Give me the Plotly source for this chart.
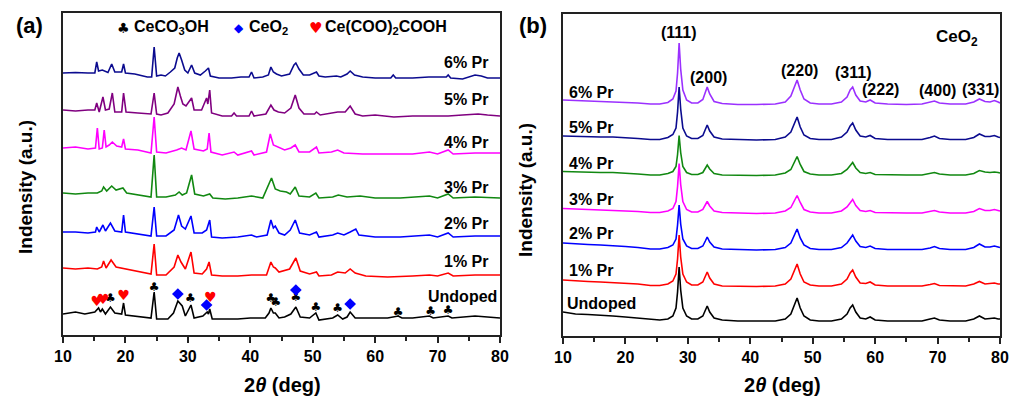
import plotly.graph_objects as go

# ---------------- Panel (a): as-prepared samples, (2theta, height above own baseline) ----------------
A_6 = [(10,7),(12,7.5),(14,7),(15.1,7),(15.4,18),(15.7,9),(16.3,10),(16.6,9),(17.2,7.5),(17.8,16),
       (18.3,8),(19.4,8),(19.7,16),(20.0,7),(21.5,6),(23.5,3),(24.2,3),(24.6,33),(25.0,4),(25.7,5),
       (26.4,4),(27.2,8),(27.9,12),(28.3,22),(28.6,27),(29.0,20),(29.5,10),(30.0,7),(30.6,15),(31.1,7),
       (32.0,5),(32.8,9),(33.0,10),(33.3,12),(33.6,4),(35,2),(37,2),(38.5,3),(39.8,3),(40.2,8),
       (40.6,2),(42,3),(42.9,5),(43.3,13),(43.7,8),(44.2,6),(45,4),(46.3,6),(47.0,15),(47.3,17),
       (47.8,11),(48.5,5),(49.5,5),(50.6,8),(51.0,4),(52,3),(53.8,4),(54.5,3),(55.5,6),(56.0,9),
       (56.7,5),(58,3),(60,2),(62.5,2),(62.9,5),(63.3,2),(66,2),(68.6,3),(71.4,3),(71.7,5),
       (72.1,2),(74,1),(76.0,5),(77,4),(78,2),(80,2)]
A_5 = [(10,8),(12,7),(14,8),(15.1,8),(15.4,15),(15.8,6),(16.4,21),(16.8,8),(17.4,9),(17.9,25),
       (18.3,6),(19.4,6),(19.7,25),(20.1,6),(22,5),(24.1,4),(24.6,25),(25.0,4),(25.7,3),(26.8,5),
       (27.8,14),(28.4,31),(28.8,22),(29.2,14),(29.7,12),(30.6,20),(31.0,8),(32.2,8),(33.0,20),(33.2,14),
       (33.5,28),(33.8,5),(35.5,2),(37.0,2),(37.4,5),(37.8,2),(39.8,2),(40.2,7),(40.6,2),(42.5,4),
       (43.3,13),(43.8,8),(44.5,6),(45.5,5),(46.5,10),(47.2,23),(47.8,10),(48.6,4),(50.3,4),(50.6,6),
       (51.2,3),(53.2,5),(54.0,6),(55.2,6),(56.0,12),(56.8,4),(58,2),(60,3),(63,1),(66,2),
       (68.5,2),(71.7,2),(74,3),(76.5,4),(78,3),(80,2)]
A_4 = [(10,7),(12,8),(14,6),(15.2,7),(15.5,27),(15.8,6),(16.3,7),(16.6,25),(16.9,8),(17.4,10),
       (17.9,13),(18.6,9),(19.4,8),(19.7,16),(20.0,6),(22,5),(24.1,2),(24.6,38),(25.0,3),(26.5,2),
       (28.2,5),(29.0,7),(29.7,5),(30.5,24),(31.0,6),(32.5,4),(33.1,6),(33.4,22),(33.7,3),(35.5,0),
       (37.4,3),(38,0),(40.2,4),(40.6,0),(42.6,3),(43.2,21),(43.7,10),(44.5,8),(45.5,5),(46.5,7),
       (47.2,10),(47.8,3),(49.5,3),(50.6,8),(51.0,2),(53,3),(54.0,5),(55,2),(58,1),(62,1),
       (66,1),(68.7,3),(70,1),(71.7,5),(72.5,1),(76,2),(80,2)]
A_3 = [(10,6),(12,5),(14,6),(15.5,6),(16.2,8),(16.5,12),(17.0,8),(17.8,13),(18.5,9),(19.6,11),
       (20.2,6),(22,4),(24.1,2),(24.6,44),(25.0,2),(26.5,2),(28.0,4),(28.6,7),(29.1,4),(29.8,6),
       (30.6,24),(31.1,5),(32.5,3),(33.5,5),(34,1),(36,0),(38,1),(40.2,3),(42,1),(43.4,21),
       (44.0,10),(44.8,8),(45.8,7),(46.4,5),(47.2,12),(47.8,3),(49.5,2),(50.5,6),(51.0,1),(53.2,2),
       (54.1,4),(55.5,2),(57.6,3),(60,1),(64,1),(68.7,3),(70,1),(71.7,5),(72.5,1),(76,2),(80,1)]
A_2 = [(10,6),(12,6),(14,5),(15.2,6),(15.4,11),(15.8,6),(16.4,13),(16.8,7),(17.6,15),(18.3,7),
       (19.4,6),(19.7,23),(20.0,6),(22,4),(24.1,2),(24.6,31),(25.0,2),(26.5,2),(27.8,8),(28.5,23),
       (29.0,12),(29.6,9),(30.5,22),(31.0,5),(32.3,5),(33.0,8),(33.5,18),(33.8,1),(35.5,0),(38,1),
       (40.2,3),(41,1),(42.7,3),(43.3,18),(43.7,10),(44.0,12),(44.6,5),(45.5,3),(46.4,8),(47.2,18),
       (47.9,5),(49.5,3),(50.6,6),(51.0,1),(53.2,3),(54.0,5),(55.0,3),(56.0,6),(56.9,9),(57.4,3),
       (60,1),(64,1),(68.7,3),(70,1),(71.7,5),(72.5,1),(76,2),(80,2)]
A_1 = [(10,9),(12,8),(14,9),(15.5,8),(16.2,10),(16.5,16),(16.9,9),(17.7,17),(18.5,10),(20,8),
       (22,6),(24.1,3),(24.6,33),(25.0,2),(26.5,2),(27.8,10),(28.4,22),(28.9,15),(29.6,8),(30.5,25),
       (31.0,4),(32.3,3),(33.0,8),(33.4,15),(33.8,2),(35.5,1),(38,1),(40.2,2),(42.6,2),(43.3,15),
       (43.7,10),(44.0,9),(44.6,5),(46.3,8),(47.3,19),(48.0,6),(49.5,3),(50.6,5),(51.0,1),(53,2),
       (54.0,5),(55.2,4),(56.0,8),(56.8,4),(58.5,1),(62,0),(66,1),(68.7,2),(70,1),(71.7,4),
       (72.5,1),(76,2),(80,2)]
A_U = [(10,8),(11,9),(12,10),(13.5,8),(15.1,10),(15.7,14),(16.0,10),(16.3,13),(16.8,8),(17.6,15),
       (18.3,9),(19.4,8),(19.7,19),(20.0,7),(21.5,6),(23.5,4),(24.1,4),(24.6,30),(25.0,3),(26.0,3),
       (26.8,3),(27.7,9),(28.4,21),(29.1,16),(29.6,6),(30.5,17),(31.0,4),(32.4,6),(33.1,10),(33.3,8),
       (33.5,13),(33.9,3),(36,3),(38,3),(40,4),(42.4,4),(43.0,9),(43.3,14),(43.7,9),(44.0,9),
       (44.6,4),(45.5,5),(46.5,8),(47.3,15),(48.0,5),(49.5,4),(50.5,9),(51.0,2),(53.2,4),(54.0,7),
       (54.8,3),(55.5,5),(56.0,10),(56.8,4),(58,4),(60,4),(62,4),(63.7,6),(64.3,4),(66,4),
       (68.7,6),(69.3,4),(71.7,6),(72.3,4),(74,5),(76,6),(78,5),(80,4)]

A_NAMES = ["6% Pr", "5% Pr", "4% Pr", "3% Pr", "2% Pr", "1% Pr", "Undoped"]
A_SERIES = [A_6, A_5, A_4, A_3, A_2, A_1, A_U]
A_OFFSETS = [255, 217, 180, 136, 97, 58, 13]
A_COLORS = ["#0b0b8f", "#800080", "#ff00ff", "#118811", "#0000ff", "#ff0000", "#000000"]

# phase markers on the undoped pattern (2theta, height above the undoped baseline)
CLUB_X = [17.6, 24.6, 30.4, 43.3, 44.1, 47.3, 50.5, 54.0, 63.7, 68.9, 71.7]
CLUB_Y = [22.7, 34.0, 23.0, 22.7, 18.7, 23.7, 13.7, 12.7, 9.3, 10.3, 11.3]
DIAM_X = [28.4, 33.0, 47.3, 56.0]
DIAM_Y = [28.0, 17.0, 32.0, 18.0]
HEART_X = [15.4, 16.4, 19.7, 33.6]
HEART_Y = [19.3, 21.3, 25.3, 23.7]

# ---------------- Panel (b): calcined CeO2 ----------------
B_X = [10, 12, 14, 16, 18, 20, 22, 24, 25.5, 26.8, 27.6, 28.1, 28.35, 28.6, 28.85, 29.2, 29.8, 30.6,
       31.6, 32.4, 32.8, 33.1, 33.5, 34.2, 35.5, 38, 41, 44, 45.6, 46.5, 47.0, 47.5, 48.0, 48.6,
       49.6, 51, 53, 54.6, 55.5, 56.0, 56.4, 56.9, 57.6, 58.5, 59.2, 60.0, 62, 65, 67.5, 68.8,
       69.5, 70.3, 72, 74.5, 75.8, 76.7, 77.6, 78.4, 79.1, 79.7, 80]
B_6 = [5,4.5,4,4,3.5,3,2,1,1,2.5, 6,14,32,62,36,15,5,2,2,5.5, 12,18,11,3.5,1.5,0.5,0.5,1,3,9,
       17,25,15,6,2,1,1,3,8,15, 18,10,4,3,5,2,1,0.5,1,3, 4,2,1,1,3,6,3.5,3,4.5,3, 2]
B_5 = [4,3.5,3.5,3,3,2.5,1.5,0.5,0.5,2.5, 5.5,12,28,53,31,12,4,1.5,1.5,4.5, 10,15,9,3,1,0.5,0,0.5,3,8,
       15,23,13,5,1.5,0.5,0.5,3,8,14, 17,10,4,3,4.5,1.5,0.5,0.5,0.5,2.5, 4,1.5,0.5,0.5,2.5,6,3.5,3.5,4.5,3, 2.5]
B_4 = [4,3.5,3.5,3,3,2.5,1.5,0.5,0.5,2, 4,9,21,40,23,9,3,1,1,3, 7,10.5,6.5,2,0.5,0,0,0.5,2.5,6,
       12,19,11,4,1.5,0.5,0.5,2,6,10, 13,7.5,3,2,3,1,0.5,0.5,0.5,2, 3,1.5,0.5,0.5,2,5,3.5,3,3.5,3, 2.5]
B_3 = [5,4.5,4,4,3.5,3,2,1,1,2.5, 5,12,27,50,29,12,4,1.5,1.5,4, 8,12,7.5,2.5,1,0.5,0,0.5,2.5,6,
       12,18,11,4,1.5,0.5,0.5,2.5,6.5,11, 14,8,3,2,3,1,0.5,0.5,0.5,2, 3,1.5,0.5,0.5,2,5,3,3,4,3, 2.5]
B_2 = [7,6,5.5,5,4.5,3.5,2.5,1,1,2.5, 5,11,25,45,26,11,4,1.5,1.5,4, 9,13,8,3,1,0.5,0,0.5,2.5,7,
       14,21,12,5,1.5,0.5,0.5,2.5,7,12, 15,9,3.5,2.5,4,1.5,0.5,0.5,0.5,2, 3.5,1.5,0.5,0.5,2.5,6,3,3,4,3, 2.5]
B_1 = [7,6,5.5,5,4.5,4,3,1.5,1.5,3, 6,13,28,52,30,13,5,2,2,5, 10,15,9,3,1,0.5,0.5,1,3,8,
       15,23,13,5,2,1,1,3,8,14, 17,10,4,3.5,5,2,1,1,1,2.5, 3.5,1.5,1,1,3,5.5,3,3.5,4,3, 3]
B_U = [10,8,7.5,7,6,5,4,2.5,2,3, 6,14,30,55,32,14,6,3,3,6, 11,16,10,4,2,1,1,1,3,8,
       16,24,14,6,2,1,1,3,8,14, 17,10,4,3,5,2,1,1,1,3, 4,2,1,1,3,6,3,3.5,4,3, 3]

B_NAMES = ["6% Pr", "5% Pr", "4% Pr", "3% Pr", "2% Pr", "1% Pr", "Undoped"]
B_SERIES = [B_6, B_5, B_4, B_3, B_2, B_1, B_U]
B_OFFSETS = [231, 196, 160.5, 122.5, 86, 49, 14]
B_COLORS = ["#9b30ff", "#0b0b8f", "#118811", "#ff00ff", "#0000ff", "#ff0000", "#000000"]

HKL = ["(111)", "(200)", "(220)", "(311)", "(222)", "(400)", "(331)"]

# ---------------- figure ----------------
W, H = 1019, 398
def PX(x): return x / W
def PY(y): return 1 - y / H

FONT = "Liberation Sans, Arial, sans-serif"
fig = go.Figure()

for pts, off, col in zip(A_SERIES, A_OFFSETS, A_COLORS):
    fig.add_trace(go.Scatter(x=[p[0] for p in pts], y=[p[1] + off for p in pts], mode="lines",
                             line=dict(color=col, width=1.6), xaxis="x", yaxis="y",
                             showlegend=False, hoverinfo="skip"))
U_OFF = A_OFFSETS[-1]
fig.add_trace(go.Scatter(x=CLUB_X, y=[v + U_OFF for v in CLUB_Y], mode="text", text=["♣"] * len(CLUB_X),
                         textposition="middle center",
                         textfont=dict(size=12, color="black", family="DejaVu Sans"),
                         xaxis="x", yaxis="y", showlegend=False, hoverinfo="skip"))
fig.add_trace(go.Scatter(x=HEART_X, y=[v + U_OFF for v in HEART_Y], mode="text", text=["♥"] * len(HEART_X),
                         textposition="middle center",
                         textfont=dict(size=14, color="#ff0000", family="DejaVu Sans"),
                         xaxis="x", yaxis="y", showlegend=False, hoverinfo="skip"))
fig.add_trace(go.Scatter(x=DIAM_X, y=[v + U_OFF for v in DIAM_Y], mode="markers",
                         marker=dict(symbol="diamond", size=9, color="#0000ff"),
                         xaxis="x", yaxis="y", showlegend=False, hoverinfo="skip"))

for vals, off, col in zip(B_SERIES, B_OFFSETS, B_COLORS):
    fig.add_trace(go.Scatter(x=B_X, y=[v + off for v in vals], mode="lines",
                             line=dict(color=col, width=1.6), xaxis="x2", yaxis="y2",
                             showlegend=False, hoverinfo="skip"))

axis_common = dict(showline=True, linecolor="#222", linewidth=1.5, mirror=True,
                   showgrid=False, zeroline=False, automargin=False)
xcommon = dict(axis_common, range=[10, 80], tick0=10, dtick=10, ticks="outside", ticklen=6,
               tickwidth=1.5, tickcolor="#222",
               tickfont=dict(family=FONT, size=16, color="black", weight="bold"),
               minor=dict(dtick=5, ticks="outside", ticklen=4, tickwidth=1.5, tickcolor="#222"))
ycommon = dict(axis_common, range=[0, 322], ticks="", showticklabels=False)

fig.update_layout(
    template="none",
    width=W, height=H, margin=dict(l=0, r=0, t=0, b=0, pad=0), autosize=False,
    paper_bgcolor="white", plot_bgcolor="white",
    xaxis=dict(xcommon, domain=[PX(63), PX(500)], anchor="y"),
    yaxis=dict(ycommon, domain=[PY(335), PY(13)], anchor="x"),
    xaxis2=dict(xcommon, domain=[PX(563), PX(1000)], anchor="y2"),
    yaxis2=dict(ycommon, domain=[PY(336), PY(14)], anchor="x2"),
)

ann = []
def A(text, x, y, size=16, xanchor="center", color="black", angle=0, family=FONT):
    ann.append(dict(text=text, x=PX(x), y=PY(y), xref="paper", yref="paper", showarrow=False,
                    xanchor=xanchor, yanchor="middle", textangle=angle,
                    font=dict(family=family, size=size, color=color, weight="bold")))

# panel letters
A("(a)", 29, 26, size=22)
A("(b)", 533, 26, size=22)
# legend of panel (a)
A("♣", 123, 28, size=14, family="DejaVu Sans")
A("CeCO<sub>3</sub>OH", 132, 28, size=16, xanchor="left")
A("◆", 239, 28, size=12, color="#0000ff", family="DejaVu Sans")
A("CeO<sub>2</sub>", 247, 28, size=16, xanchor="left")
A("♥", 315, 28, size=15, color="#ff0000", family="DejaVu Sans")
A("Ce(COO)<sub>2</sub>COOH", 323, 28, size=16, xanchor="left")
# series labels panel (a)
A_LABEL_Y = [63, 100, 142, 187, 223, 261, 296]
for name, yy in zip(A_NAMES, A_LABEL_Y):
    A(name, 490 if name != "Undoped" else 499, yy, size=16, xanchor="right")
# series labels panel (b)
B_LABEL_Y = [92, 127, 163, 200, 233, 270, 303]
for name, yy in zip(B_NAMES, B_LABEL_Y):
    A(name, 567 if name != "Undoped" else 565, yy, size=16, xanchor="left")
# hkl labels
HKL_POS = [(679, 33), (708, 77), (799, 70), (853, 73), (880, 90), (937, 91), (980, 90)]
for t, (x, y) in zip(HKL, HKL_POS):
    A(t, x, y, size=16)
A("CeO<sub>2</sub>", 957, 38, size=17)
# axis titles
A("2<i>θ</i> (deg)", 282, 385, size=20)
A("2<i>θ</i> (deg)", 782, 385, size=20)
A("Indensity (a.u.)", 25, 187, size=19, angle=-90)
A("Indensity (a.u.)", 526, 190, size=19, angle=-90)

fig.update_layout(annotations=ann)
fig.write_html("out.html")
